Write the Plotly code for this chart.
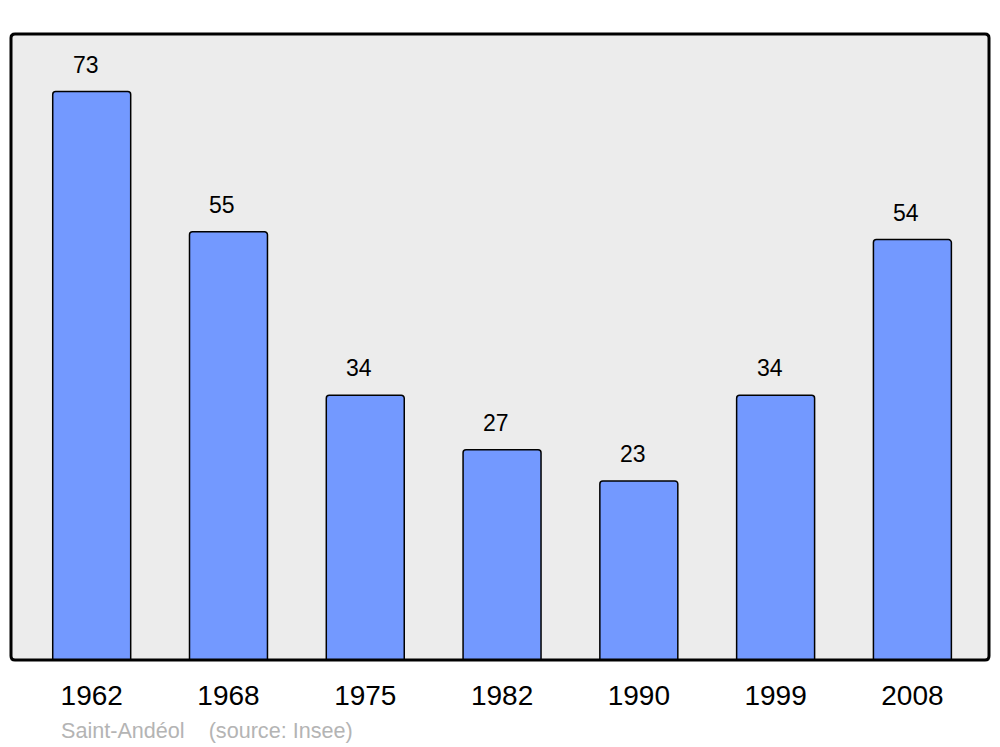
import plotly.graph_objects as go

# Données de population
annees = ["1962", "1968", "1975", "1982", "1990", "1999", "2008"]
population = [73, 55, 34, 27, 23, 34, 54]
source_texte = "Saint-Andéol    (source: Insee)"

# la page a une marge de 8 px : on compense
W, H = 992, 739
ml, mr, mt, mb = 3, 11, 26, 87

fig = go.Figure()
fig.add_trace(
    go.Bar(
        x=list(range(len(annees))),
        y=population,
        width=0.57,
        marker=dict(color="#7399ff", line=dict(color="black", width=1.5), cornerradius=3),
        hovertemplate="%{customdata}: %{y}<extra></extra>",
        customdata=annees,
    )
)

# étiquettes de valeur au-dessus des barres
for i, p in enumerate(population):
    fig.add_annotation(
        x=i, y=p, text=str(p), showarrow=False,
        yanchor="bottom", yshift=12, xshift=-6,
        font=dict(size=23, color="black"),
    )

# cadre arrondi autour de la zone de tracé
pw, ph = W - ml - mr, H - mt - mb
rx, ry = 4 / pw, 4 / ph
path = (
    f"M {rx},0 L {1-rx},0 Q 1,0 1,{ry} L 1,{1-ry} Q 1,1 {1-rx},1 "
    f"L {rx},1 Q 0,1 0,{1-ry} L 0,{ry} Q 0,0 {rx},0 Z"
)
fig.add_shape(type="path", path=path, xref="paper", yref="paper",
              line=dict(color="black", width=3), layer="above")

# source sous le graphique
fig.add_annotation(
    x=(59 - 8 - ml) / pw, y=-(730 - 8 - mt - ph) / ph, xref="paper", yref="paper",
    text=source_texte, showarrow=False, xanchor="left", yanchor="middle",
    font=dict(size=21.6, color="#b4b4b4"),
)

fig.update_layout(
    width=W,
    height=H,
    margin=dict(l=ml, r=mr, t=mt, b=mb),
    paper_bgcolor="white",
    plot_bgcolor="#ececec",
    font=dict(family="Liberation Sans, Arial, sans-serif"),
    showlegend=False,
    xaxis=dict(
        range=[-0.59, 6.56],
        tickmode="array",
        tickvals=list(range(len(annees))),
        ticktext=annees,
        showgrid=False,
        zeroline=False,
        ticks="",
        ticklabelstandoff=16,
        tickfont=dict(size=28, color="black"),
    ),
    yaxis=dict(
        range=[0, 80.4],
        showgrid=False,
        zeroline=False,
        showticklabels=False,
    ),
)

fig.write_html("out.html")
